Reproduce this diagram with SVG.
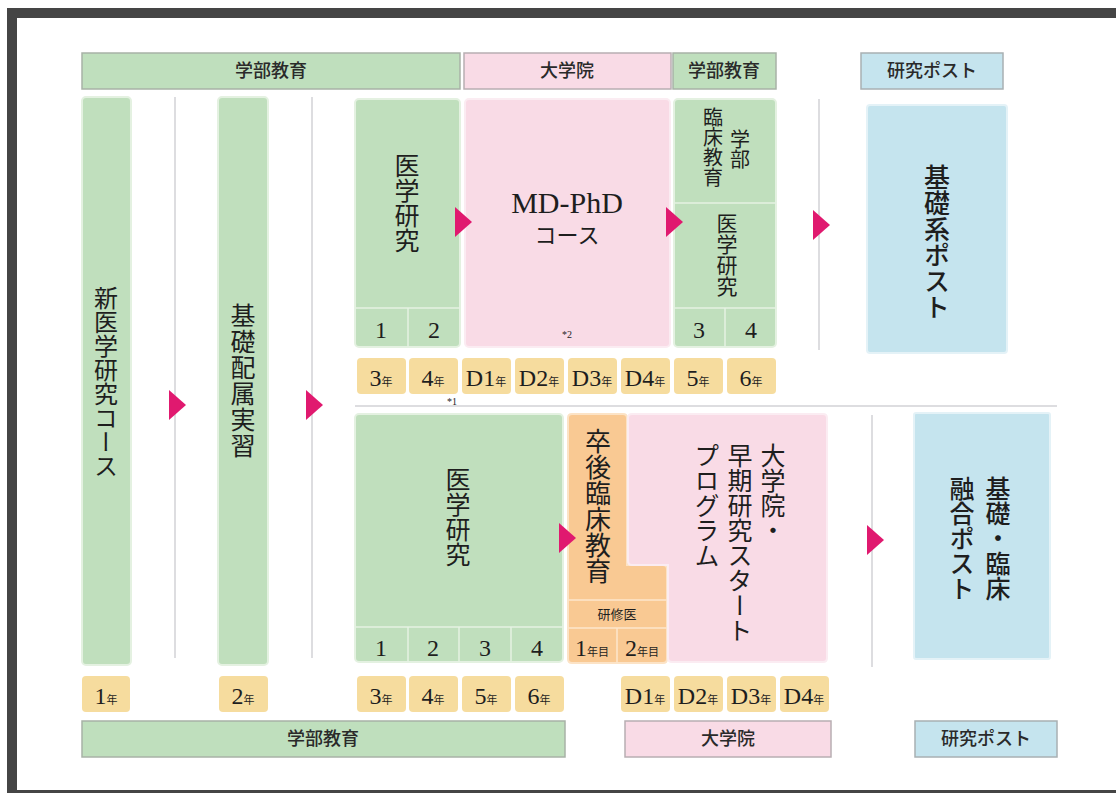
<svg xmlns="http://www.w3.org/2000/svg" xmlns:xlink="http://www.w3.org/1999/xlink" width="1116" height="793" viewBox="0 0 1116 793">
<style>
.g{fill:#c0dfbd;stroke:#e4f1e1;stroke-width:2}
.p{fill:#f9dbe6;stroke:#fbecf2;stroke-width:2}
.b{fill:#c5e4ee;stroke:#e4f2f7;stroke-width:2}
.o{fill:#f9c993;stroke:#fce3c6;stroke-width:2}
.y{fill:#f6dc9e}
.hg{fill:#bfdfbd;stroke:#a8b2a7;stroke-width:1.5}
.hp{fill:#f9dbe6;stroke:#b8aeb2;stroke-width:1.5}
.hb{fill:#c5e4ee;stroke:#a8b0b3;stroke-width:1.5}
.sg{stroke:#e6f2e3;stroke-width:1.5;fill:none}
.so{stroke:#fde6cc;stroke-width:1.5;fill:none}
.dv{stroke:#d2d2d6;stroke-width:1.5;fill:none}
.arr{fill:#e0196f}
.jp{font-family:"Noto Sans CJK JP",sans-serif;fill:#1e1e1e}
.v{writing-mode:vertical-rl}
.n{font-family:"Liberation Serif",serif;fill:#1e1e1e;text-anchor:middle}
.h{font-family:"Noto Sans CJK JP",sans-serif;fill:#2a2a2a;font-size:18px;text-anchor:middle;font-weight:500}
.k{font-family:"Noto Sans CJK JP",sans-serif;font-size:11px}
</style>
<defs>
<path id="tri" class="arr" d="M0,-15 L17,0 L0,15 Z"/>
</defs>
<rect x="12" y="13" width="1115" height="782" fill="#ffffff" stroke="#454545" stroke-width="10"/>

<g id="headers">
<rect class="hg" x="82" y="53" width="378" height="36"/>
<text class="h" x="271" y="77">学部教育</text>
<rect class="hp" x="464" y="53" width="207" height="36"/>
<text class="h" x="567" y="77">大学院</text>
<rect class="hg" x="673" y="53" width="103" height="36"/>
<text class="h" x="724" y="77">学部教育</text>
<rect class="hb" x="861" y="53" width="142" height="36"/>
<text class="h" x="932" y="77">研究ポスト</text>
<rect class="hg" x="82" y="721" width="483" height="36"/>
<text class="h" x="323" y="745">学部教育</text>
<rect class="hp" x="625" y="721" width="206" height="36"/>
<text class="h" x="728" y="745">大学院</text>
<rect class="hb" x="915" y="721" width="142" height="36"/>
<text class="h" x="986" y="745">研究ポスト</text>
</g>

<g id="dividers">
<line class="dv" x1="175" y1="97" x2="175" y2="658"/>
<line class="dv" x1="312" y1="97" x2="312" y2="658"/>
<line class="dv" x1="819" y1="99" x2="819" y2="350"/>
<line class="dv" x1="872" y1="415" x2="872" y2="667"/>
<line class="dv" x1="355" y1="406" x2="1057" y2="406" stroke="#dedede"/>
</g>

<g id="node-shin">
<rect class="g" x="82" y="97" width="49" height="568" rx="4"/>
<text class="jp v" x="106" y="286" font-size="24">新医学研究コース</text>
</g>

<g id="node-kiso-haizoku">
<rect class="g" x="218" y="97" width="50" height="568" rx="4"/>
<text class="jp v" x="243" y="303" font-size="25" letter-spacing="1">基礎配属実習</text>
</g>

<g id="node-igaku-upper">
<rect class="g" x="355" y="99" width="105" height="248" rx="4"/>
<line class="sg" x1="355" y1="308" x2="460" y2="308"/>
<line class="sg" x1="408" y1="308" x2="408" y2="347"/>
<text class="jp v" x="407" y="153" font-size="25">医学研究</text>
<text class="n" x="381" y="338" font-size="24">1</text>
<text class="n" x="434" y="338" font-size="24">2</text>
</g>

<g id="node-mdphd">
<rect class="p" x="465" y="99" width="205" height="248" rx="4"/>
<text class="n" x="567" y="213" font-size="30">MD-PhD</text>
<text class="jp" x="567" y="243" font-size="22" text-anchor="middle">コース</text>
<text class="n" x="567" y="338" font-size="10">*2</text>
</g>

<g id="node-gakubu-right">
<rect class="g" x="674" y="99" width="102" height="248" rx="4"/>
<line class="sg" x1="674" y1="203" x2="776" y2="203"/>
<line class="sg" x1="674" y1="308" x2="776" y2="308"/>
<line class="sg" x1="725" y1="308" x2="725" y2="347"/>
<text class="jp v" x="713" y="107" font-size="20">臨床教育</text>
<text class="jp v" x="740" y="129" font-size="20">学部</text>
<text class="jp v" x="727" y="213" font-size="21">医学研究</text>
<text class="n" x="699" y="338" font-size="24">3</text>
<text class="n" x="751" y="338" font-size="24">4</text>
</g>

<g id="node-kisokei-post">
<rect class="b" x="867" y="105" width="140" height="248" rx="3"/>
<text class="jp v" x="937" y="164" font-size="26" font-weight="500">基礎系ポスト</text>
</g>

<g id="years-upper">
<rect class="y" x="357" y="358" width="49" height="36" rx="4"/>
<rect class="y" x="409" y="358" width="49" height="36" rx="4"/>
<rect class="y" x="462" y="358" width="49" height="36" rx="4"/>
<rect class="y" x="515" y="358" width="49" height="36" rx="4"/>
<rect class="y" x="568" y="358" width="49" height="36" rx="4"/>
<rect class="y" x="621" y="358" width="49" height="36" rx="4"/>
<rect class="y" x="674" y="358" width="49" height="36" rx="4"/>
<rect class="y" x="727" y="358" width="49" height="36" rx="4"/>
<text class="n" x="381" y="386" font-size="24">3<tspan class="k">年</tspan></text>
<text class="n" x="433" y="386" font-size="24">4<tspan class="k">年</tspan></text>
<text class="n" x="486" y="386" font-size="24">D1<tspan class="k">年</tspan></text>
<text class="n" x="539" y="386" font-size="24">D2<tspan class="k">年</tspan></text>
<text class="n" x="592" y="386" font-size="24">D3<tspan class="k">年</tspan></text>
<text class="n" x="645" y="386" font-size="24">D4<tspan class="k">年</tspan></text>
<text class="n" x="698" y="386" font-size="24">5<tspan class="k">年</tspan></text>
<text class="n" x="751" y="386" font-size="24">6<tspan class="k">年</tspan></text>
<text class="n" x="452" y="405" font-size="10">*1</text>
</g>

<g id="node-igaku-lower">
<rect class="g" x="355" y="414" width="208" height="248" rx="4"/>
<line class="sg" x1="355" y1="627" x2="563" y2="627"/>
<line class="sg" x1="408" y1="627" x2="408" y2="662"/>
<line class="sg" x1="459" y1="627" x2="459" y2="662"/>
<line class="sg" x1="511" y1="627" x2="511" y2="662"/>
<text class="jp v" x="458" y="467" font-size="25">医学研究</text>
<text class="n" x="381" y="656" font-size="24">1</text>
<text class="n" x="433" y="656" font-size="24">2</text>
<text class="n" x="485" y="656" font-size="24">3</text>
<text class="n" x="537" y="656" font-size="24">4</text>
</g>

<g id="node-sotsugo">
<path class="o" d="M572,414 H623 Q627,414 627,418 V565 H663 Q667,565 667,569 V659 Q667,663 663,663 H572 Q568,663 568,659 V418 Q568,414 572,414 Z"/>
<line class="so" x1="568" y1="600" x2="667" y2="600"/>
<line class="so" x1="568" y1="628" x2="667" y2="628"/>
<line class="so" x1="617" y1="628" x2="617" y2="663"/>
<text class="jp v" x="598" y="428" font-size="26">卒後臨床教育</text>
<text class="jp" x="617" y="619" font-size="13" text-anchor="middle">研修医</text>
<text class="n" x="592" y="656" font-size="24">1<tspan class="k">年目</tspan></text>
<text class="n" x="642" y="656" font-size="24">2<tspan class="k">年目</tspan></text>
</g>

<g id="node-soki">
<path class="p" d="M632,414 H823 Q827,414 827,418 V658 Q827,662 823,662 H672 Q668,662 668,658 V565 H632 Q628,565 628,561 V418 Q628,414 632,414 Z"/>
<text class="jp v" x="773" y="443" font-size="25">大学院・</text>
<text class="jp v" x="740" y="443" font-size="25">早期研究スタート</text>
<text class="jp v" x="707" y="443" font-size="25">プログラム</text>
</g>

<g id="node-yugo-post">
<rect class="b" x="914" y="413" width="136" height="246" rx="2"/>
<text class="jp v" x="998" y="476" font-size="25" font-weight="500">基礎・臨床</text>
<text class="jp v" x="962" y="476" font-size="25" font-weight="500">融合ポスト</text>
</g>

<g id="years-lower">
<rect class="y" x="82" y="676" width="48" height="36" rx="4"/>
<rect class="y" x="219" y="676" width="49" height="36" rx="4"/>
<rect class="y" x="357" y="676" width="49" height="36" rx="4"/>
<rect class="y" x="409" y="676" width="49" height="36" rx="4"/>
<rect class="y" x="462" y="676" width="49" height="36" rx="4"/>
<rect class="y" x="515" y="676" width="49" height="36" rx="4"/>
<rect class="y" x="621" y="676" width="49" height="36" rx="4"/>
<rect class="y" x="674" y="676" width="49" height="36" rx="4"/>
<rect class="y" x="727" y="676" width="49" height="36" rx="4"/>
<rect class="y" x="780" y="676" width="49" height="36" rx="4"/>
<text class="n" x="106" y="704" font-size="24">1<tspan class="k">年</tspan></text>
<text class="n" x="243" y="704" font-size="24">2<tspan class="k">年</tspan></text>
<text class="n" x="381" y="704" font-size="24">3<tspan class="k">年</tspan></text>
<text class="n" x="433" y="704" font-size="24">4<tspan class="k">年</tspan></text>
<text class="n" x="486" y="704" font-size="24">5<tspan class="k">年</tspan></text>
<text class="n" x="539" y="704" font-size="24">6<tspan class="k">年</tspan></text>
<text class="n" x="645" y="704" font-size="24">D1<tspan class="k">年</tspan></text>
<text class="n" x="698" y="704" font-size="24">D2<tspan class="k">年</tspan></text>
<text class="n" x="751" y="704" font-size="24">D3<tspan class="k">年</tspan></text>
<text class="n" x="804" y="704" font-size="24">D4<tspan class="k">年</tspan></text>
</g>

<g id="connectors">
<use xlink:href="#tri" x="169" y="405"/>
<use xlink:href="#tri" x="306" y="405"/>
<use xlink:href="#tri" x="455" y="222"/>
<use xlink:href="#tri" x="666" y="222"/>
<use xlink:href="#tri" x="813" y="225"/>
<use xlink:href="#tri" x="559" y="538"/>
<use xlink:href="#tri" x="867" y="540"/>
</g>
</svg>
